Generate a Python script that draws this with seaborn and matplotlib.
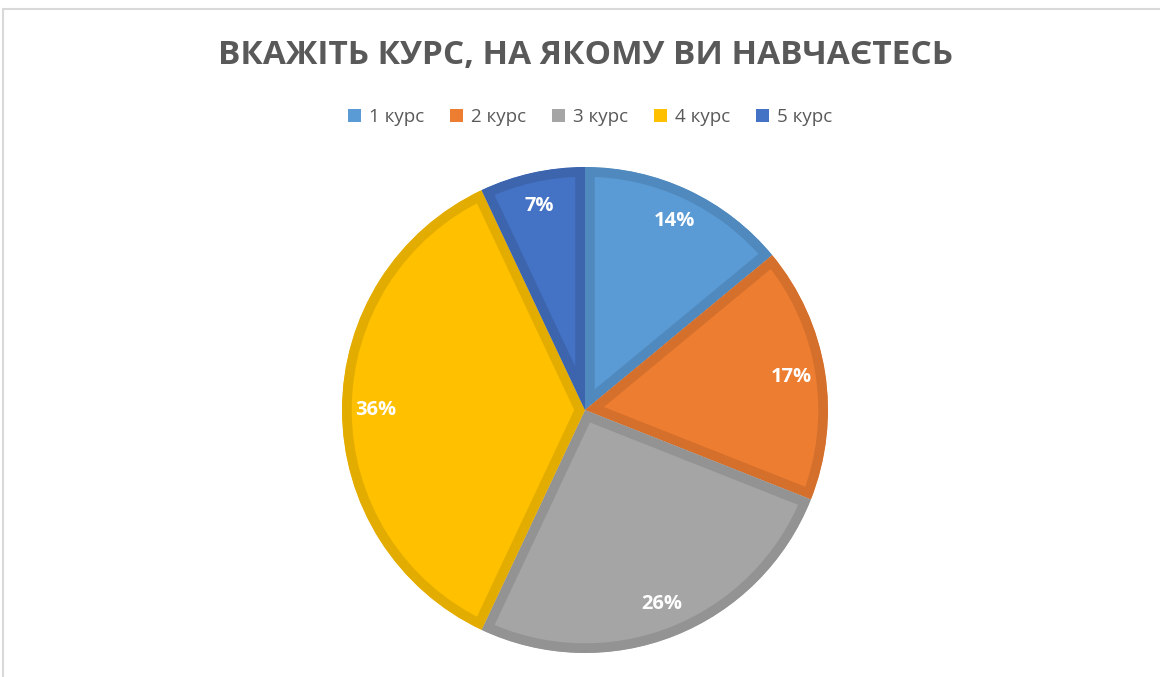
import matplotlib
matplotlib.use("Agg")
import matplotlib.pyplot as plt
from matplotlib.patches import Patch, Rectangle
import seaborn as sns

# data
courses = ["1 курс", "2 курс", "3 курс", "4 курс", "5 курс"]
shares = [14, 17, 26, 36, 7]
fills = ["#5B9BD5", "#ED7D31", "#A5A5A5", "#FFC000", "#4472C4"]
edges = ["#4F89BD", "#D4702C", "#939393", "#E3AC00", "#3C65AE"]
title = "ВКАЖІТЬ КУРС, НА ЯКОМУ ВИ НАВЧАЄТЕСЬ"

sns.set_theme(style="white")
plt.rcParams["font.family"] = ["Open Sans", "DejaVu Sans"]

W, H = 1160, 677
fig = plt.figure(figsize=(W / 100, H / 100), dpi=100)

# thin frame like the Excel chart area
fig.add_artist(Rectangle((3 / W, -0.1), 1.2, 1 - 9 / H + 0.1, transform=fig.transFigure,
                         fill=False, edgecolor="#D9D9D9", linewidth=1.5))

cx, cy, r = 585, 410, 243
ax = fig.add_axes([(cx - r) / W, (H - cy - r) / H, 2 * r / W, 2 * r / H])
wedges, texts, autotexts = ax.pie(
    shares, colors=fills, startangle=90, counterclock=False, radius=1,
    autopct="%.0f%%", pctdistance=0.86,
    textprops=dict(color="white", fontsize=14.5, fontweight="bold"),
)
for w, ec in zip(wedges, edges):
    w.set_edgecolor(ec)
    w.set_linewidth(14)
    w.set_clip_on(True)
    w.set_clip_path(w)  # keep only the inner half of the stroke
ax.set_xlim(-1, 1)
ax.set_ylim(-1, 1)
ax.set_aspect("equal")
ax.axis("off")

fig.text(585 / W, 1 - 55 / H, title, ha="center", va="center",
         fontsize=24, fontweight="bold", color="#595959")

handles = [Patch(facecolor=c, edgecolor="none") for c in fills]
fig.legend(handles, courses, loc="center", bbox_to_anchor=(590 / W, 1 - 117 / H),
           ncol=5, frameon=False, fontsize=13.5, labelcolor="#595959",
           handlelength=0.7, handleheight=0.7, handletextpad=0.4, columnspacing=1.4)

fig.savefig("out.png", dpi=100)
